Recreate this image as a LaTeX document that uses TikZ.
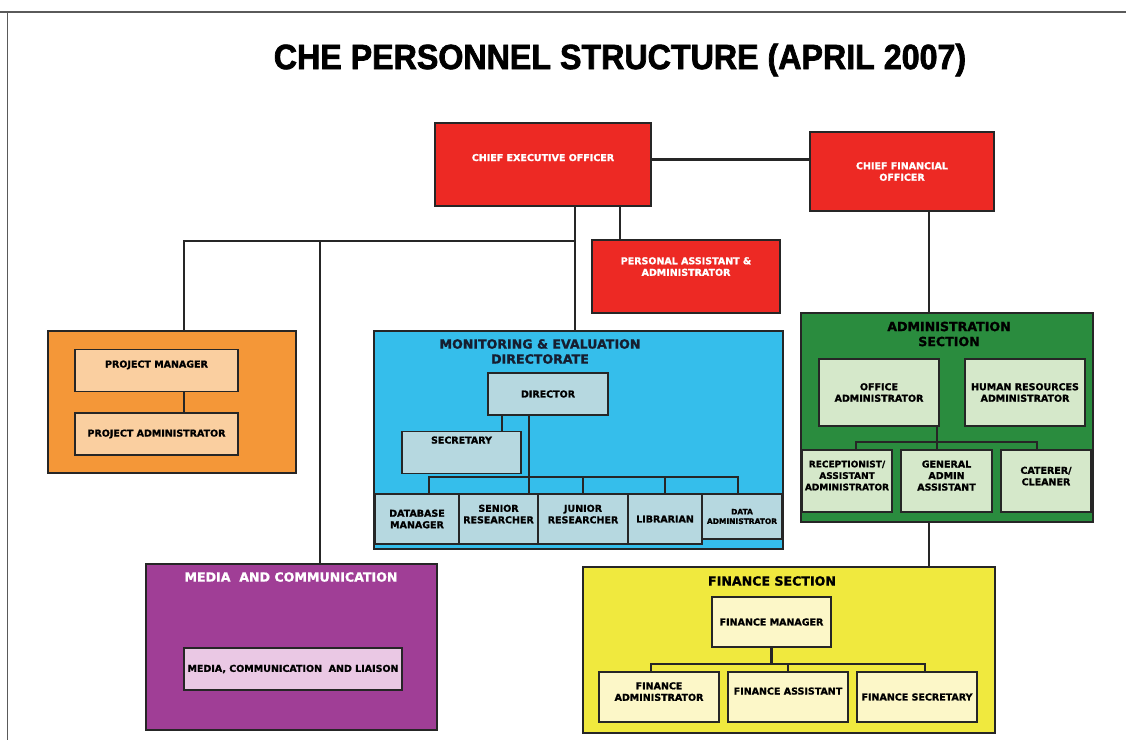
\documentclass[tikz,border=0pt]{standalone}
\usepackage{fontspec}
\setmainfont{DejaVu Sans}[BoldFeatures={FakeBold=1.2}]
\newfontfamily\headfont{Liberation Sans}[FakeStretch=0.92, BoldFeatures={FakeBold=2}]
\usetikzlibrary{positioning}

\definecolor{edge}{RGB}{38,38,38}
\definecolor{framegray}{RGB}{90,90,90}
\definecolor{ceored}{RGB}{237,41,36}
\definecolor{projorange}{RGB}{244,151,56}
\definecolor{projlight}{RGB}{250,207,160}
\definecolor{mesky}{RGB}{53,190,235}
\definecolor{meinner}{RGB}{182,216,224}
\definecolor{menavy}{RGB}{22,30,48}
\definecolor{admingreen}{RGB}{42,140,62}
\definecolor{adminlight}{RGB}{213,232,202}
\definecolor{finyellow}{RGB}{240,233,62}
\definecolor{finlight}{RGB}{252,247,200}
\definecolor{mediapurple}{RGB}{160,62,150}
\definecolor{medialight}{RGB}{234,200,228}

\tikzstyle{post} = [draw=edge, line width=1.5pt, inner sep=0pt, outer sep=0pt, align=center, text=black,
  font=\bfseries\fontsize{9.5}{11.5}\selectfont]
\tikzstyle{redpost} = [post, fill=ceored, text=white]
\tikzstyle{unit} = [draw=edge, line width=1.8pt, inner sep=0pt, outer sep=0pt]
\tikzstyle{unittitle} = [align=center, inner sep=0pt, font=\bfseries\fontsize{12.6}{15}\selectfont]
\tikzstyle{link} = [draw=edge, line width=2.2pt]
\tikzset{dims/.style 2 args={minimum width=#1pt, minimum height=#2pt},
  lift/.style={text depth=#1}}

\begin{document}
\begin{tikzpicture}[x=1pt, y=-1pt]
  \useasboundingbox (0,0) rectangle (1126,740);

  % page frame
  \draw[framegray, line width=1.3pt] (0,12) -- (1126,12);
  \draw[framegray, line width=1pt] (7,12) -- (7,740);

  \node[font=\headfont\bfseries\fontsize{35}{38}\selectfont] (title) at (620,60)
    {CHE PERSONNEL STRUCTURE (APRIL 2007)};

  % top management
  \node[redpost, dims={216}{83}, lift=14pt] (ceo) at (543,164.5) {CHIEF EXECUTIVE OFFICER};
  \node[redpost, dims={184}{79}] (cfo) at (902,171.5) {CHIEF FINANCIAL\\OFFICER};
  \node[redpost, dims={188}{73}, lift=20pt] (pa) at (686,276.5) {PERSONAL ASSISTANT \&\\ADMINISTRATOR};

  % projects
  \node[unit, fill=projorange, dims={248}{142}] (project) at (172,402) {};
  \node[post, fill=projlight, dims={163}{42}, lift=13pt] (pm) at (156.5,370.5) {PROJECT MANAGER};
  \node[post, fill=projlight, dims={163}{42}] (padm) at (156.5,434) {PROJECT ADMINISTRATOR};

  % monitoring and evaluation
  \node[unit, fill=mesky, dims={409}{218}] (me) at (578.5,440) {};
  \node[unittitle, text=menavy] (metitle) at (540,351.5) {MONITORING \& EVALUATION\\DIRECTORATE};
  \node[post, fill=meinner, dims={120}{42}] (director) at (548,394) {DIRECTOR};
  \node[post, fill=meinner, dims={119}{42}, lift=25pt] (secretary) at (461.5,452.5) {SECRETARY};
  \node[post, fill=meinner, dims={84}{50}] (dbm) at (417,519) {DATABASE\\MANAGER};
  \node[post, fill=meinner, dims={79}{50}, lift=10pt, right=0pt of dbm] (senior) {SENIOR\\RESEARCHER};
  \node[post, fill=meinner, dims={90}{50}, lift=10pt, right=0pt of senior] (junior) {JUNIOR\\RESEARCHER};
  \node[post, fill=meinner, dims={74}{50}, right=0pt of junior] (librarian) {LIBRARIAN};
  \node[post, fill=meinner, dims={80}{45}, anchor=north west, font=\bfseries\fontsize{7.5}{9.5}\selectfont]
    (dataadm) at (librarian.north east) {DATA\\ADMINISTRATOR};

  % administration
  \node[unit, fill=admingreen, dims={292}{209}] (admin) at (947,417.5) {};
  \node[unittitle, text=black] (admintitle) at (949,334) {ADMINISTRATION\\SECTION};
  \node[post, fill=adminlight, dims={120}{67}] (office) at (879,392.5) {OFFICE\\ADMINISTRATOR};
  \node[post, fill=adminlight, dims={120}{67}, right=26pt of office] (hr) {HUMAN RESOURCES\\ADMINISTRATOR};
  \node[post, fill=adminlight, dims={90}{62}, lift=11pt, font=\bfseries\fontsize{9}{11.5}\selectfont]
    (recep) at (847,481) {RECEPTIONIST/\\ASSISTANT\\ADMINISTRATOR};
  \node[post, fill=adminlight, dims={91}{62}, lift=11pt, right=9pt of recep] (general) {GENERAL\\ADMIN\\ASSISTANT};
  \node[post, fill=adminlight, dims={90}{62}, lift=10pt, right=9pt of general] (caterer) {CATERER/\\CLEANER};

  % finance
  \node[unit, fill=finyellow, dims={412}{166}] (finance) at (789,650) {};
  \node[unittitle, text=black] (fintitle) at (772,581) {FINANCE SECTION};
  \node[post, fill=finlight, dims={119}{50}] (fm) at (771.5,622) {FINANCE MANAGER};
  \node[post, fill=finlight, dims={120}{50}, lift=11pt] (fadm) at (659,697) {FINANCE\\ADMINISTRATOR};
  \node[post, fill=finlight, dims={120}{50}, lift=12pt, right=9pt of fadm] (fasst) {FINANCE ASSISTANT};
  \node[post, fill=finlight, dims={120}{50}, right=9pt of fasst] (fsec) {FINANCE SECRETARY};

  % media
  \node[unit, fill=mediapurple, dims={291}{166}] (media) at (291.5,647) {};
  \node[unittitle, text=white] (mediatitle) at (291,577) {MEDIA\ \ AND COMMUNICATION};
  \node[post, fill=medialight, dims={218}{42}] (mcl) at (293,669) {MEDIA, COMMUNICATION\ \ AND LIAISON};

  % reporting lines
  \coordinate (ceostem) at ([xshift=32pt]ceo.south);
  \coordinate (pastem) at ([xshift=77pt]ceo.south);
  \coordinate (bus) at (575,241);
  \coordinate (mediastem) at ([xshift=28.5pt]media.north);
  \coordinate (cfostem) at ([xshift=27pt]cfo.south);
  \coordinate (adminstem) at ([xshift=-18pt]admin.south);
  \coordinate (dirstem) at ([xshift=-19pt]director.south);
  \coordinate (secstem) at ([xshift=-46pt]director.south);
  \coordinate (offstem) at ([xshift=58pt]office.south);

  \draw[link] ([yshift=5pt]ceo.east) -- ([yshift=5pt]ceo.east -| cfo.west);
  \draw[link] (pastem) -- (pastem |- pa.north);
  \draw[link] (ceostem) -- (ceostem |- me.north);
  \draw[link] (bus) -| ([xshift=12pt]project.north);
  \draw[link] (mediastem |- bus) -- (mediastem);
  \draw[link] (cfostem) -- (cfostem |- admin.north);
  \draw[link] (adminstem) -- (adminstem |- finance.north);

  \draw[link] ([xshift=27.5pt]pm.south) -- ([xshift=27.5pt]padm.north);

  \draw[link] (secstem) -- (secstem |- secretary.north);
  \draw[link] (dirstem) -- (dirstem |- senior.north);
  \draw[link] ([xshift=12pt]dbm.north) -- ++(0,-17) -| ([xshift=-4pt]dataadm.north);
  \draw[link] (junior.north) -- ++(0,-17);
  \draw[link] (librarian.north) -- ++(0,-17);

  \draw[link] (offstem) -- (offstem |- general.north);
  \draw[link] ([xshift=9pt]recep.north) -- ++(0,-8) -| ([xshift=-9pt]caterer.north);

  \draw[link] (fm.south) -- ++(0,17);
  \draw[link] ([xshift=-8pt]fadm.north) -- ++(0,-8) -| ([xshift=8pt]fsec.north);
  \draw[link] (fasst.north) -- ++(0,-8);
\end{tikzpicture}
\end{document}
